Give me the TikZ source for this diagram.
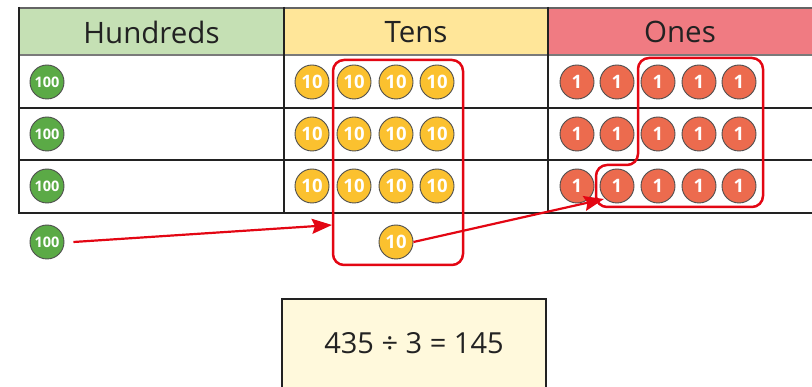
\documentclass[tikz,border=0pt]{standalone}
\usepackage{fontspec}
\setmainfont{Open Sans}
\newfontfamily\cntfont{Open Sans}
\usetikzlibrary{arrows.meta}
\definecolor{hgreen}{HTML}{C5E0B4}
\definecolor{hyellow}{HTML}{FFE699}
\definecolor{hpink}{HTML}{F07B82}
\definecolor{cgreen}{HTML}{5BAA46}
\definecolor{cyellow}{HTML}{FBC12F}
\definecolor{cred}{HTML}{EC6B4E}
\definecolor{linered}{HTML}{E30613}
\definecolor{gridcol}{HTML}{222222}
\definecolor{eqfill}{HTML}{FFF9DC}
\tikzset{
  cnt/.style={circle, draw=gridcol!80, line width=0.9pt, minimum size=34pt, inner sep=0pt, text=white, font=\cntfont\bfseries\fontsize{18.5}{20}\selectfont},
  hund/.style={cnt, fill=cgreen, font=\cntfont\bfseries\fontsize{14.5}{16}\selectfont},
  tens/.style={cnt, fill=cyellow},
  ones/.style={cnt, fill=cred},
  grid/.style={draw=gridcol, line width=2pt},
  head/.style={font=\fontsize{29.5}{34}\selectfont, text=gridcol},
  redline/.style={draw=linered, line width=2.5pt, rounded corners=11pt},
  arrow/.style={draw=linered, line width=2.2pt, -{Stealth[length=20pt,width=15pt,inset=3pt]}},
}
\begin{document}
\begin{tikzpicture}[x=1pt,y=-1pt]
\useasboundingbox (0,0) rectangle (812,387);
\clip (0,0) rectangle (812,387);
% header fills
\fill[hgreen] (19,8) rectangle (284,55);
\fill[hyellow] (284,8) rectangle (548,55);
\fill[hpink] (548,8) rectangle (820,55);
\node[head] (hh) at (151.5,32) {Hundreds};
\node[head] (ht) at (416,32) {Tens};
\node[head] (ho) at (680,32) {Ones};
% grid
\draw[draw=gridcol!70, line width=1.5pt] (19,8) -- (820,8);
\draw[draw=gridcol!60, line width=1.5pt] (19,55) -- (820,55);
\draw[grid] (19,7) -- (19,213) -- (820,213);
\draw[grid] (284,7) -- (284,213);
\draw[grid] (548,7) -- (548,213);
\draw[grid] (19,108) -- (820,108);
\draw[grid] (19,160) -- (820,160);
% hundreds
\node[hund] (h1) at (47,82) {100};
\node[hund] (h2) at (47,134) {100};
\node[hund] (h3) at (47,186) {100};
\node[hund] (h4) at (47,242) {100};
% tens
\foreach \r/\y in {1/82,2/134,3/186}{
  \foreach \c/\x in {1/312,2/354,3/396,4/437}{
    \node[tens] (t\r\c) at (\x,\y) {10};
  }
}
\node[tens] (t5) at (396,242) {10};
% ones
\foreach \r/\y in {1/82,2/134,3/186}{
  \foreach \c/\x in {1/577,2/617,3/658,4/699,5/739}{
    \node[ones] (o\r\c) at (\x,\y) {1};
  }
}
% red outlines
\draw[redline] (398,60) -- (463,60) -- (463,265) -- (333,265) -- (333,60) -- cycle;
\draw[redline] (700,58) -- (763,58) -- (763,207) -- (596,207) -- (596,165) -- (638,165) -- (638,58) -- cycle;
% arrows
\coordinate (a1end) at (332,225);
\coordinate (a2end) at (604,199);
\draw[arrow] (h4.east) ++(9,0) -- (a1end);
\draw[arrow] (t5.east) -- (a2end);
% equation
\draw[draw=gridcol, line width=2pt, fill=eqfill] (282,299) rectangle (546,400);
\node[font=\fontsize{29}{34}\selectfont, text=gridcol] (eq) at (414,343) {435 ÷ 3 = 145};
\end{tikzpicture}
\end{document}
